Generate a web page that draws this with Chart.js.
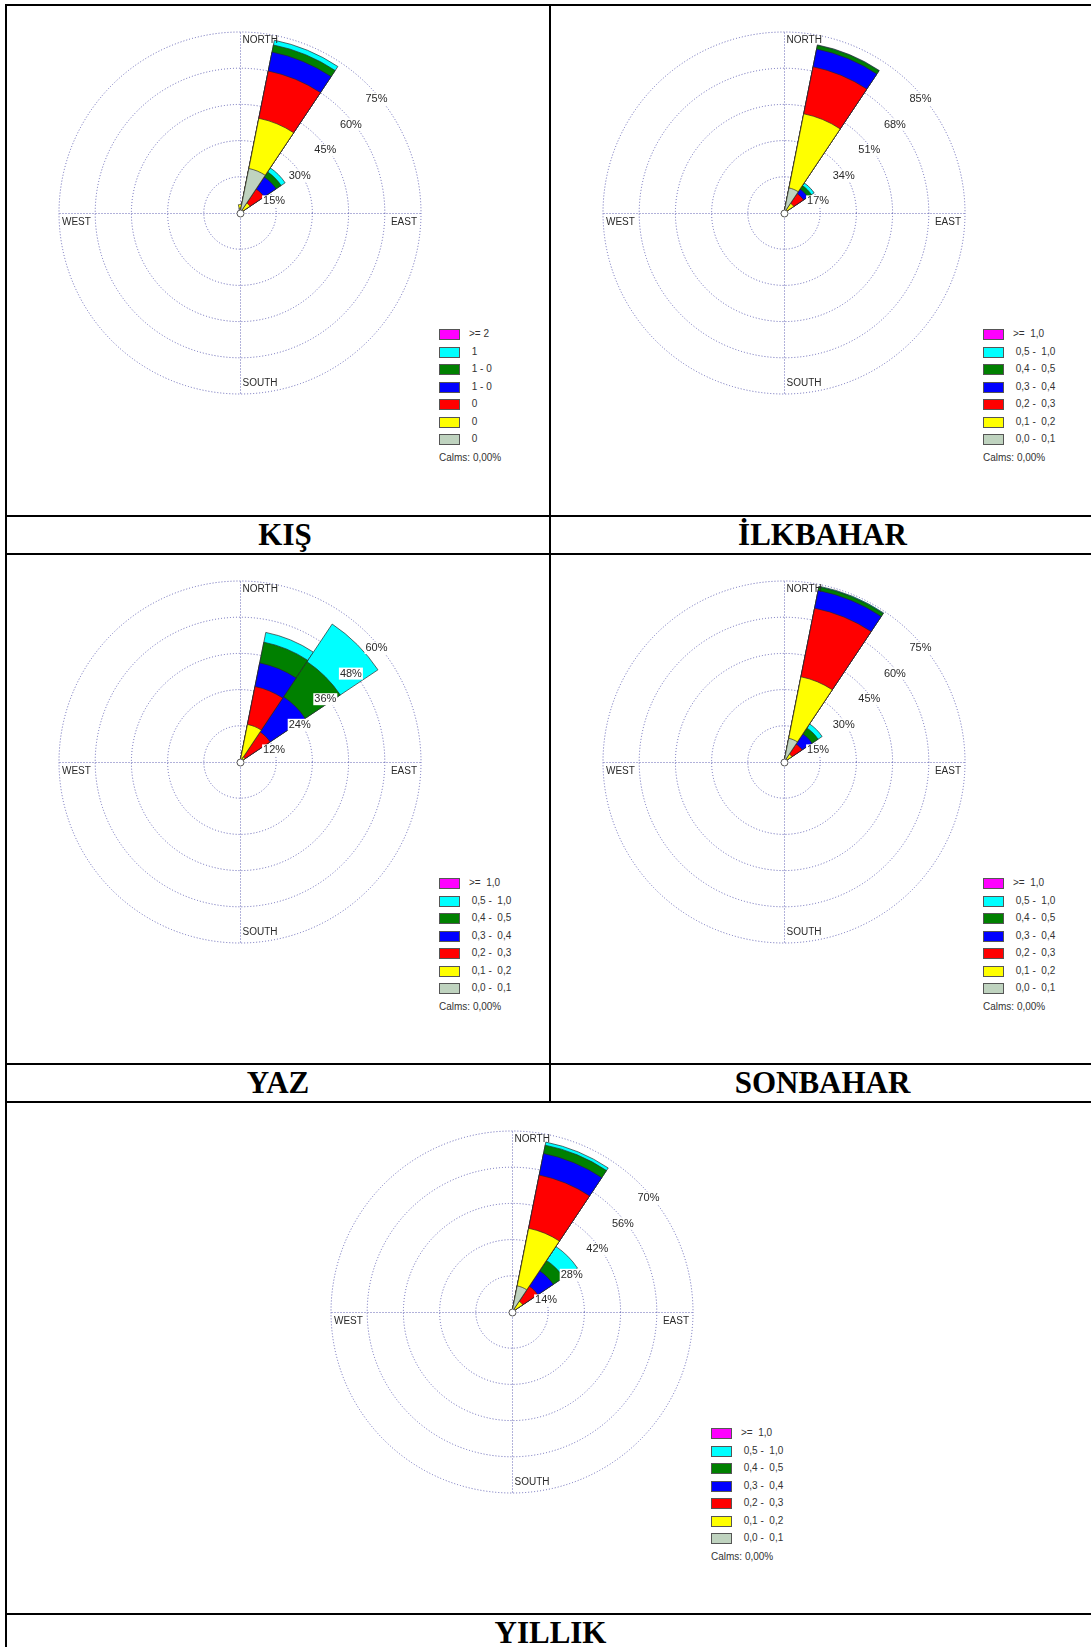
<!DOCTYPE html>
<html>
<head>
<meta charset="utf-8">
<script src="https://cdn.jsdelivr.net/npm/chart.js@4.4.0/dist/chart.umd.min.js"></script>
<style>
  html, body { margin: 0; padding: 0; background: #fff; }
  body { width: 1091px; height: 1647px; position: relative; overflow: hidden; font-family: "Liberation Sans", Arial, sans-serif; }
  .rule { position: absolute; background: #000; }
  .title { position: absolute; height: 36px; line-height: 36px; text-align: center; color: #000;
           font: bold 31px "Liberation Serif", "Times New Roman", serif; }
  .rose { position: absolute; width: 380px; height: 380px; }
  .swatch { position: absolute; width: 19px; height: 9px; border: 1px solid #555; }
  .ltext { position: absolute; font-size: 10px; line-height: 12px; color: #333; white-space: pre; }
</style>
</head>
<body>
<script>
// compass sectors, clockwise from north
const directions = ['N', 'NNE', 'NE', 'ENE', 'E', 'ESE', 'SE', 'SSE', 'S', 'SSW', 'SW', 'WSW', 'W', 'WNW', 'NW', 'NNW'];

// speed classes, lowest first
const bandColors = ['#bfd3bf', '#ffff00', '#ff0000', '#0000ff', '#008000', '#00ffff', '#ff00ff'];
const speedLabels = [' 0,0 -  0,1', ' 0,1 -  0,2', ' 0,2 -  0,3', ' 0,3 -  0,4', ' 0,4 -  0,5', ' 0,5 -  1,0', '>=  1,0'];
const kisSpeedLabels = [' 0', ' 0', ' 0', ' 1 - 0', ' 1 - 0', ' 1', '>= 2'];
const calmsText = 'Calms: 0,00%';

// frequency (%) of each speed class per sector, lowest class first
const kisN   = [2.0, 1.5, 0, 0, 0, 0, 0];
const kisNNE = [18.8, 21.2, 20.0, 8.0, 3.0, 2.0, 0];
const kisNE  = [0, 5.0, 7.0, 6.0, 2.5, 2.0, 0];

const ilkNNE = [12.0, 35.5, 22.5, 8.5, 1.8, 0.2, 0];
const ilkNE  = [0, 5.5, 5.5, 2.5, 2.0, 1.5, 0];

const yazNNE = [0, 12.7, 12.8, 8.0, 7.0, 3.3, 0];
const yazNE  = [0, 2.0, 10.0, 14.0, 14.0, 15.0, 0];

const sonNNE = [10.0, 26.0, 29.0, 7.5, 1.5, 0.3, 0];
const sonNE  = [0, 4.0, 5.0, 5.0, 3.0, 2.0, 0];

const yilNNE = [10.3, 22.7, 21.0, 8.5, 3.3, 1.2, 0];
const yilNE  = [0, 5.0, 7.0, 7.2, 4.8, 6.5, 0];

// ring scales
const kisRings = { max: 75, step: 15 };
const ilkRings = { max: 85, step: 17 };
const yazRings = { max: 60, step: 12 };
const sonRings = { max: 75, step: 15 };
const yilRings = { max: 70, step: 14 };

const panels = [
  { cx: 240, cy: 213,  rings: kisRings, labels: kisSpeedLabels, sectors: { N: kisN, NNE: kisNNE, NE: kisNE } },
  { cx: 784, cy: 213,  rings: ilkRings, labels: speedLabels,    sectors: { NNE: ilkNNE, NE: ilkNE } },
  { cx: 240, cy: 762,  rings: yazRings, labels: speedLabels,    sectors: { NNE: yazNNE, NE: yazNE } },
  { cx: 784, cy: 762,  rings: sonRings, labels: speedLabels,    sectors: { NNE: sonNNE, NE: sonNE } },
  { cx: 512, cy: 1312, rings: yilRings, labels: speedLabels,    sectors: { NNE: yilNNE, NE: yilNE } }
];

const gridColor = '#6464b4';
const textColor = '#2a2a2a';

// table frame
const hRules = [
  [5, 4, 1090], [5, 515, 1090], [5, 553, 1090], [5, 1063, 1090], [5, 1101, 1090], [5, 1613, 1090]
];
const vRules = [
  [5, 4, 1643], [549, 4, 1099]
];
const titleCells = [
  { text: 'KIŞ', left: 21, top: 517, width: 528 },
  { text: 'İLKBAHAR', left: 551, top: 517, width: 543 },
  { text: 'YAZ', left: 7, top: 1065, width: 542 },
  { text: 'SONBAHAR', left: 551, top: 1065, width: 543 },
  { text: 'YILLIK', left: 7, top: 1615, width: 1087 }
];

hRules.forEach(([x, y, w]) => addDiv('rule', { left: x, top: y, width: w, height: 2 }));
vRules.forEach(([x, y, h]) => addDiv('rule', { left: x, top: y, width: 2, height: h }));
titleCells.forEach(t => {
  const d = addDiv('title', { left: t.left, top: t.top, width: t.width });
  d.textContent = t.text;
});

function addDiv(cls, box) {
  const d = document.createElement('div');
  d.className = cls;
  for (const k in box) d.style[k] = box[k] + 'px';
  document.body.appendChild(d);
  return d;
}

// stack the classes: each band is drawn from the centre out to its cumulative value,
// lower bands come first so they are painted on top
function buildDatasets(sectors) {
  return bandColors.map((color, b) => ({
    data: directions.map(dir => {
      const v = sectors[dir];
      if (!v || !v[b]) return 0;
      return v.slice(0, b + 1).reduce((s, x) => s + x, 0);
    }),
    backgroundColor: color
  }));
}

const roseDecor = {
  id: 'roseDecor',
  beforeDatasetsDraw(chart) {
    const r = chart.scales.r;
    const ctx = chart.ctx;
    const R = r.drawingArea;
    const x = r.xCenter + 0.5, y = r.yCenter + 0.5;
    ctx.save();
    ctx.strokeStyle = gridColor;
    ctx.lineWidth = 1;
    ctx.setLineDash([1, 2]);
    ctx.beginPath();
    ctx.moveTo(x, y - R); ctx.lineTo(x, y + R);
    ctx.moveTo(x - R, y); ctx.lineTo(x + R, y);
    ctx.stroke();
    ctx.restore();
  },
  afterDatasetsDraw(chart) {
    const r = chart.scales.r;
    const ctx = chart.ctx;
    const R = r.drawingArea;
    const cx = r.xCenter, cy = r.yCenter;
    ctx.save();
    ctx.font = '11px "Liberation Sans", Arial, sans-serif';
    ctx.textBaseline = 'middle';
    ctx.textAlign = 'left';
    r.ticks.forEach(t => {
      if (t.value <= 0) return;
      const d = r.getDistanceFromCenterForValue(t.value) * Math.SQRT1_2;
      const label = t.value + '%';
      const x = cx + d - 2.5, y = cy - d + 14;
      const w = ctx.measureText(label).width;
      ctx.fillStyle = '#fff';
      ctx.fillRect(x - 1, y - 6, w + 2, 12);
      ctx.fillStyle = textColor;
      ctx.fillText(label, x, y);
    });

    ctx.font = '10px "Liberation Sans", Arial, sans-serif';
    ctx.fillStyle = textColor;
    ctx.fillText('NORTH', cx + 2.5, cy - R + 8);
    ctx.fillText('SOUTH', cx + 2.5, cy + R - 10.5);
    ctx.fillText('WEST', cx - R + 3, cy + 9);
    ctx.textAlign = 'right';
    ctx.fillText('EAST', cx + R - 4, cy + 9);

    ctx.beginPath();
    ctx.arc(cx + 0.5, cy + 0.5, 3.5, 0, Math.PI * 2);
    ctx.fillStyle = '#fff';
    ctx.fill();
    ctx.strokeStyle = '#555';
    ctx.lineWidth = 1;
    ctx.stroke();
    ctx.restore();
  }
};

panels.forEach(p => {
  const canvas = document.createElement('canvas');
  canvas.className = 'rose';
  canvas.width = 380;
  canvas.height = 380;
  canvas.style.left = (p.cx - 190) + 'px';
  canvas.style.top = (p.cy - 190) + 'px';
  document.body.appendChild(canvas);

  new Chart(canvas.getContext('2d'), {
    type: 'polarArea',
    data: { labels: directions, datasets: buildDatasets(p.sectors) },
    options: {
      responsive: false,
      animation: false,
      layout: { padding: 9 },
      elements: { arc: { borderColor: 'rgba(40, 40, 40, 0.85)', borderWidth: 0.8 } },
      plugins: { legend: { display: false }, tooltip: { enabled: false } },
      scales: {
        r: {
          min: 0,
          max: p.rings.max,
          startAngle: -11.25,
          ticks: { display: false, stepSize: p.rings.step },
          grid: { color: gridColor, lineWidth: 1 },
          border: { dash: [1, 2] },
          angleLines: { display: false },
          pointLabels: { display: false }
        }
      }
    },
    plugins: [roseDecor]
  });

  // legend, highest class at the top
  for (let i = 0; i < bandColors.length; i++) {
    const b = bandColors.length - 1 - i;
    const top = p.cy + 116 + i * 17.5;
    const sw = addDiv('swatch', { left: p.cx + 199, top: top, width: 19, height: 9 });
    sw.style.background = bandColors[b];
    const tx = addDiv('ltext', { left: p.cx + 229, top: top - 1 });
    tx.textContent = p.labels[b];
  }
  const calms = addDiv('ltext', { left: p.cx + 199, top: p.cy + 239 });
  calms.textContent = calmsText;
});
</script>
</body>
</html>
